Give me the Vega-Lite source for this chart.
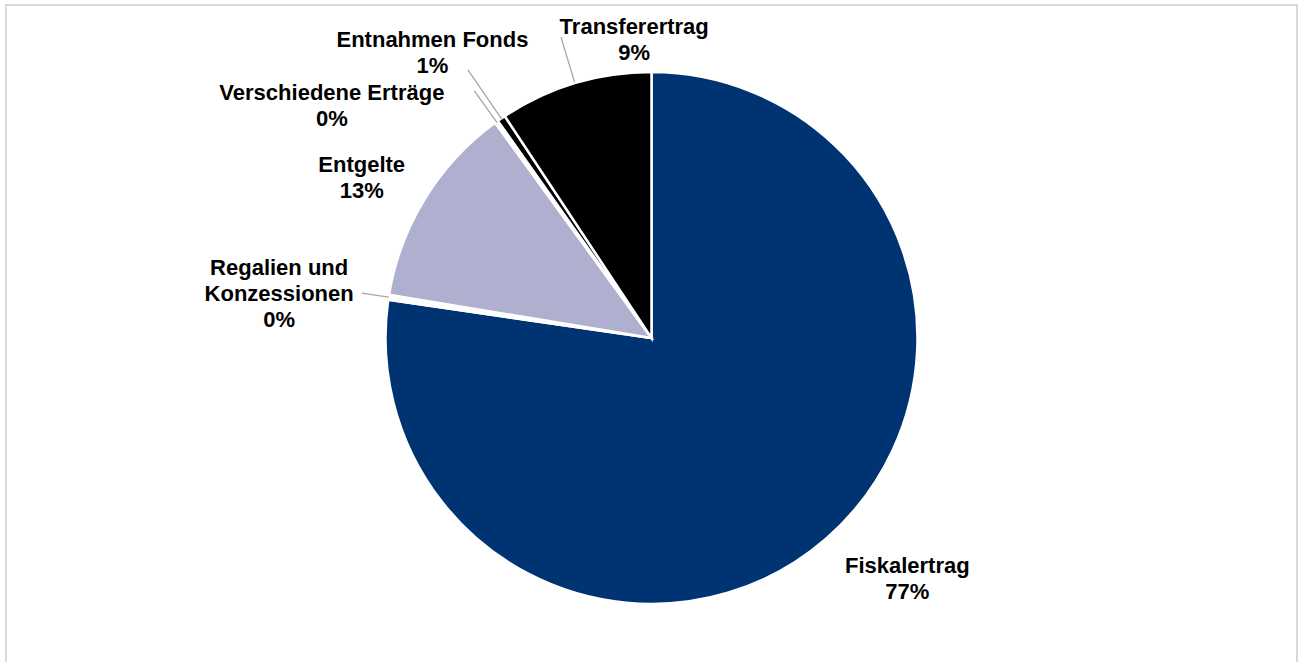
{
  "$schema": "https://vega.github.io/schema/vega-lite/v6.json",
  "autosize": {"type": "none"},
  "width": 1291,
  "height": 660,
  "padding": {"left": 6, "top": 5, "right": 3, "bottom": 0},
  "background": "white",
  "view": {"stroke": "#d9d9d9", "strokeWidth": 2},
  "data": {
    "values": [
      {"order": 1, "name": "Fiskalertrag", "value": 77.3, "label": "Fiskalertrag\n77%"},
      {"order": 2, "name": "Regalien und Konzessionen", "value": 0.3, "label": "Regalien und\nKonzessionen\n0%"},
      {"order": 3, "name": "Entgelte", "value": 12.4, "label": "Entgelte\n13%"},
      {"order": 4, "name": "Verschiedene Erträge", "value": 0.2, "label": "Verschiedene Erträge\n0%"},
      {"order": 5, "name": "Entnahmen Fonds", "value": 0.5, "label": "Entnahmen Fonds\n1%"},
      {"order": 6, "name": "Transferertrag", "value": 9.3, "label": "Transferertrag\n9%"}
    ]
  },
  "encoding": {
    "theta": {"field": "value", "type": "quantitative", "stack": true},
    "order": {"field": "order", "type": "quantitative"}
  },
  "layer": [
    {
      "mark": {"type": "arc", "outerRadius": 266, "stroke": "white", "strokeWidth": 2.5, "yOffset": 3},
      "encoding": {
        "color": {
          "field": "name", "type": "nominal", "legend": null,
          "scale": {
            "domain": ["Fiskalertrag", "Regalien und Konzessionen", "Entgelte", "Verschiedene Erträge", "Entnahmen Fonds", "Transferertrag"],
            "range": ["#003372", "#ffffff", "#afafd0", "#ffffff", "#000000", "#000000"]
          }
        }
      }
    },
    {
      "mark": {"type": "arc", "innerRadius": 266, "outerRadius": 293, "padAngle": 3.14, "fillOpacity": 0, "stroke": "#a6a6a6", "strokeWidth": 1.3, "yOffset": 3},
      "encoding": {"strokeOpacity": {"condition": {"test": "datum.name === 'Regalien und Konzessionen'", "value": 1}, "value": 0}}
    },
    {
      "mark": {"type": "arc", "innerRadius": 265, "outerRadius": 304, "padAngle": 3.14, "fillOpacity": 0, "stroke": "#a6a6a6", "strokeWidth": 1.3, "yOffset": 3},
      "encoding": {"strokeOpacity": {"condition": {"test": "datum.name === 'Verschiedene Erträge'", "value": 1}, "value": 0}}
    },
    {
      "mark": {"type": "arc", "innerRadius": 265, "outerRadius": 325, "padAngle": 3.14, "fillOpacity": 0, "stroke": "#a6a6a6", "strokeWidth": 1.3, "yOffset": 3},
      "encoding": {"strokeOpacity": {"condition": {"test": "datum.name === 'Entnahmen Fonds'", "value": 1}, "value": 0}}
    },
    {
      "mark": {"type": "arc", "innerRadius": 267, "outerRadius": 314, "padAngle": 3.14, "fillOpacity": 0, "stroke": "#a6a6a6", "strokeWidth": 1.3, "yOffset": 3},
      "encoding": {"strokeOpacity": {"condition": {"test": "datum.name === 'Transferertrag'", "value": 1}, "value": 0}}
    },
    {
      "mark": {"type": "text", "radius": 310, "dx": 53, "dy": -6, "yOffset": 3, "font": "Liberation Sans", "fontWeight": "bold", "fontSize": 22, "lineHeight": 26, "lineBreak": "\n", "align": "center", "baseline": "middle", "color": "#000000"},
      "encoding": {"text": {"condition": {"test": "datum.name === 'Fiskalertrag'", "field": "label"}, "value": ""}}
    },
    {
      "mark": {"type": "text", "radius": 310, "dx": -66, "dy": -22, "yOffset": 3, "font": "Liberation Sans", "fontWeight": "bold", "fontSize": 22, "lineHeight": 26, "lineBreak": "\n", "align": "center", "baseline": "middle", "color": "#000000"},
      "encoding": {"text": {"condition": {"test": "datum.name === 'Regalien und Konzessionen'", "field": "label"}, "value": ""}}
    },
    {
      "mark": {"type": "text", "radius": 310, "dx": -26, "dy": -10, "yOffset": 3, "font": "Liberation Sans", "fontWeight": "bold", "fontSize": 22, "lineHeight": 26, "lineBreak": "\n", "align": "center", "baseline": "middle", "color": "#000000"},
      "encoding": {"text": {"condition": {"test": "datum.name === 'Entgelte'", "field": "label"}, "value": ""}}
    },
    {
      "mark": {"type": "text", "radius": 310, "dx": -139, "dy": 7, "yOffset": 3, "font": "Liberation Sans", "fontWeight": "bold", "fontSize": 22, "lineHeight": 26, "lineBreak": "\n", "align": "center", "baseline": "middle", "color": "#000000"},
      "encoding": {"text": {"condition": {"test": "datum.name === 'Verschiedene Erträge'", "field": "label"}, "value": ""}}
    },
    {
      "mark": {"type": "text", "radius": 310, "dx": -44, "dy": -42, "yOffset": 3, "font": "Liberation Sans", "fontWeight": "bold", "fontSize": 22, "lineHeight": 26, "lineBreak": "\n", "align": "center", "baseline": "middle", "color": "#000000"},
      "encoding": {"text": {"condition": {"test": "datum.name === 'Entnahmen Fonds'", "field": "label"}, "value": ""}}
    },
    {
      "mark": {"type": "text", "radius": 310, "dx": 72, "dy": -14, "yOffset": 3, "font": "Liberation Sans", "fontWeight": "bold", "fontSize": 22, "lineHeight": 26, "lineBreak": "\n", "align": "center", "baseline": "middle", "color": "#000000"},
      "encoding": {"text": {"condition": {"test": "datum.name === 'Transferertrag'", "field": "label"}, "value": ""}}
    }
  ]
}
